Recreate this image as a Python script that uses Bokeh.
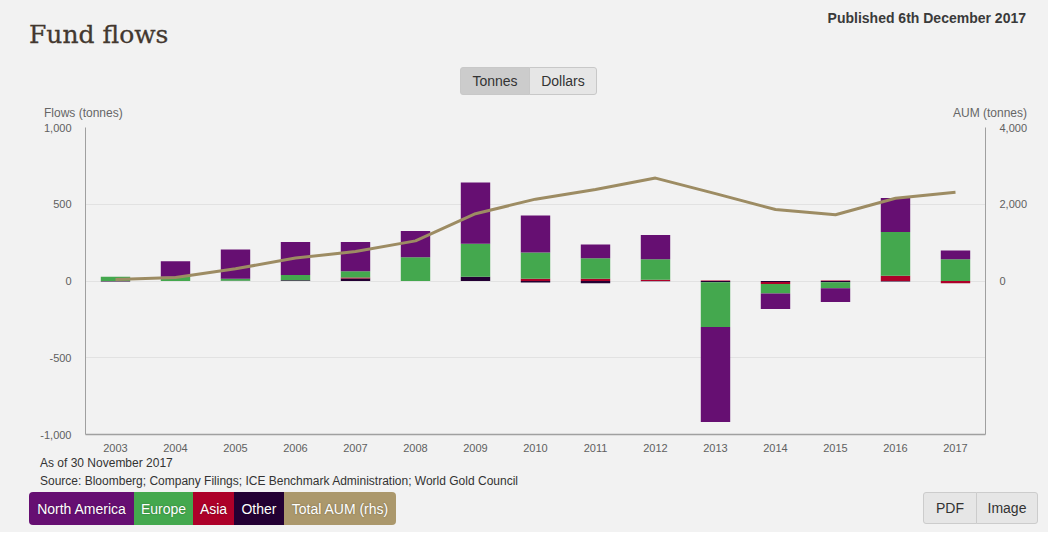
import numpy as np
from bokeh.plotting import figure
from bokeh.models import Range1d, LinearAxis, FixedTicker, NumeralTickFormatter, Div
from bokeh.layouts import column
from bokeh.embed import file_html
from bokeh.resources import INLINE

# ---------------- data ----------------
years = [2003, 2004, 2005, 2006, 2007, 2008, 2009, 2010, 2011, 2012, 2013, 2014, 2015, 2016, 2017]
north_america = [0, 101, 190, 215, 190, 171, 399, 240, 89, 158, -620, -101, -89, 222, 57]
europe = [27, 28, 13, 34, 42, 154, 215, 171, 133, 133, -291, -63, -40, 285, 141]
asia = [0, 0, 0, 0, 6, 0, 0, 15, 15, 8, 4, -13, 4, 34, -14]
other = [-3, 0, 2, 5, 16, 0, 27, -10, -15, -2, -8, -6, -8, -3, 0]
total_aum = [40, 91, 319, 597, 767, 1045, 1753, 2133, 2386, 2682, 2277, 1862, 1728, 2158, 2310]

left_ticks = [-1000, -500, 0, 500, 1000]
right_ticks = [0, 2000, 4000]

series_names = ["North America", "Europe", "Asia", "Other"]
series_colors = ["#660f72", "#44a84e", "#ad0029", "#230033"]
aum_color = "#9d8c63"
aum_legend_color = "#ab986c"

# ---------------- geometry ----------------
W, H = 1048, 532
HEADER_H = 121
FOOTER_H = 77
FIG_H = H - HEADER_H - FOOTER_H  # 334
FL, FR = 85, 985          # frame left / right in canvas px
BT, BB = 6, 21            # border above / below the frame inside the figure

BG = "#f2f2f2"
FONT = "'Liberation Sans', Arial, sans-serif"

p = figure(width=W, height=FIG_H, output_backend="svg", toolbar_location=None, title=None,
           x_range=Range1d(years[0] - 0.5, years[-1] + 0.5), y_range=Range1d(-1000, 1000),
           min_border_left=FL, min_border_right=W - FR, min_border_top=BT, min_border_bottom=BB,
           background_fill_color=BG, border_fill_color=BG, outline_line_color=None, margin=0,
           styles={"background-color": BG})
p.extra_y_ranges = {"aum": Range1d(-4000, 4000)}

p.xaxis.ticker = FixedTicker(ticks=years)
p.xaxis.formatter = NumeralTickFormatter(format="0")
p.yaxis.ticker = FixedTicker(ticks=left_ticks)
p.yaxis.formatter = NumeralTickFormatter(format="0,0")

raxis = LinearAxis(y_range_name="aum", ticker=FixedTicker(ticks=right_ticks),
                   formatter=NumeralTickFormatter(format="0,0"))
p.add_layout(raxis, "right")

for ax in [p.xaxis[0], p.yaxis[0], raxis]:
    ax.axis_line_color = "#a0a0a0"
    ax.axis_line_width = 1
    ax.major_tick_line_color = None
    ax.minor_tick_line_color = None
    ax.major_tick_out = 0
    ax.major_tick_in = 0
    ax.minor_tick_out = 0
    ax.minor_tick_in = 0
    ax.major_label_text_font = "Liberation Sans"
    ax.major_label_text_font_size = "11px"
    ax.major_label_text_color = "#606060"
p.xaxis.major_label_standoff = 9
p.xaxis.axis_line_width = 1.5
p.yaxis.major_label_standoff = 14
raxis.major_label_standoff = 14

p.xgrid.grid_line_color = None
p.ygrid.grid_line_color = "#e2e2e2"
p.ygrid.grid_line_width = 1

# stacked bars: positives stack upward from 0, negatives downward; "Other" sits nearest the axis
stack_order = [(other, series_colors[3]), (asia, series_colors[2]),
               (europe, series_colors[1]), (north_america, series_colors[0])]
pos_base = np.zeros(len(years))
neg_base = np.zeros(len(years))
for vals, col in stack_order:
    v = np.array(vals, dtype=float)
    bottom = np.where(v >= 0, pos_base, neg_base)
    top = bottom + v
    pos_base = np.where(v >= 0, top, pos_base)
    neg_base = np.where(v < 0, top, neg_base)
    p.vbar(x=years, bottom=bottom, top=top, width=0.49, fill_color=col, line_color=None)

p.line(years, total_aum, y_range_name="aum", line_color=aum_color, line_width=3)

# ---------------- header / footer ----------------
def box(left, top, width, height, text, bg, color="#333333", border=None, radius="0",
        size=14, extra=""):
    b = f"border:1px solid {border};" if border else ""
    return (f'<div style="position:absolute;left:{left}px;top:{top}px;width:{width}px;'
            f'height:{height}px;box-sizing:border-box;background:{bg};{b}border-radius:{radius};'
            f'display:flex;align-items:center;justify-content:center;font-size:{size}px;'
            f'color:{color};white-space:nowrap;{extra}">{text}</div>')

def txt(left, top, text, size=12, color="#333333", extra="", right=None):
    pos = f"right:{right}px;" if right is not None else f"left:{left}px;"
    return (f'<div style="position:absolute;{pos}top:{top}px;font-size:{size}px;'
            f'line-height:{size + 2}px;color:{color};white-space:nowrap;{extra}">{text}</div>')

header_html = (
    f'<div style="position:relative;width:{W}px;height:{HEADER_H}px;background:{BG};'
    f'font-family:{FONT};overflow:hidden;">'
    + txt(29, 22, "Fund flows", size=25, color="#43382f",
          extra="font-family:'DejaVu Serif',serif;line-height:25px;-webkit-text-stroke:0.3px #43382f;")
    + txt(0, 10, "Published 6th December 2017", size=14, color="#3a3a3a",
          extra="font-weight:bold;", right=22)
    + box(460, 67, 70, 28, "Tonnes", "#cccccc", border="#c8c8c8", radius="3px 0 0 3px")
    + box(529, 67, 68, 28, "Dollars", "#e6e6e6", border="#c8c8c8", radius="0 3px 3px 0")
    + txt(44, 106, "Flows (tonnes)", color="#666666")
    + txt(0, 106, "AUM (tonnes)", color="#666666", right=21)
    + '</div>'
)

legend_boxes = [("North America", series_colors[0], 29, 105),
                ("Europe", series_colors[1], 134, 59),
                ("Asia", series_colors[2], 193, 41),
                ("Other", series_colors[3], 234, 50),
                ("Total AUM (rhs)", aum_legend_color, 284, 112)]
legend_html = ""
for i, (name, col, lx, lw) in enumerate(legend_boxes):
    rad = "4px 0 0 4px" if i == 0 else ("0 4px 4px 0" if i == len(legend_boxes) - 1 else "0")
    legend_html += box(lx, 37, lw, 33, name, col, color="#ffffff", radius=rad,
                       extra="text-shadow:0 0 2px rgba(0,0,0,0.35);")

footer_html = (
    f'<div style="position:relative;width:{W}px;height:{FOOTER_H}px;background:{BG};'
    f'font-family:{FONT};overflow:hidden;">'
    + txt(40, 1, "As of 30 November 2017")
    + txt(40, 19, "Source: Bloomberg; Company Filings; ICE Benchmark Administration; World Gold Council")
    + legend_html
    + box(923, 37, 54, 32, "PDF", "#e6e6e6", border="#cccccc", radius="3px 0 0 3px")
    + box(976, 37, 62, 32, "Image", "#e6e6e6", border="#cccccc", radius="0 3px 3px 0")
    + '</div>'
)

header = Div(text=header_html, width=W, height=HEADER_H, margin=0, styles={"background-color": BG})
footer = Div(text=footer_html, width=W, height=FOOTER_H, margin=0, styles={"background-color": BG})

layout = column(header, p, footer, spacing=0, margin=0, styles={"background-color": BG})
html = file_html(layout, INLINE)
html = html.replace("<body>", f'<body style="background:{BG};">', 1)
open("out.html", "w").write(html)
